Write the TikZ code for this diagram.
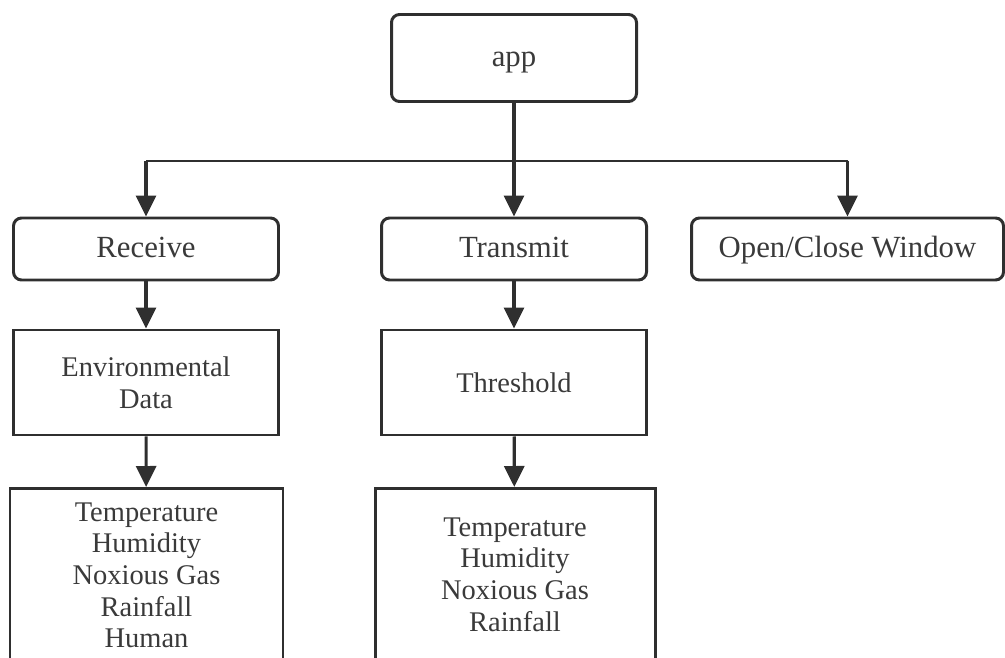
\documentclass[tikz,border=0pt]{standalone}
\usepackage{fontspec}
\setmainfont{Liberation Serif}
\usetikzlibrary{arrows.meta}
\definecolor{ink}{HTML}{2F2F2F}
\definecolor{txt}{HTML}{3A3A3A}

\begin{document}
\begin{tikzpicture}[
    topbox/.style={draw=ink,line width=1.7pt,rounded corners=0.16cm,text=txt,font=\fontsize{17.5}{21}\selectfont,
      text height=12pt,text depth=1.8pt},
    subbox/.style={draw=ink,line width=1.7pt,text=txt,align=center,font=\fontsize{16.2}{18}\selectfont},
    link/.style={draw=ink,line width=1.8pt,-{Triangle[length=0.42cm,width=0.4cm]}}
  ]
  \clip (0,0) rectangle (20.1,-13.14);

  \node[topbox,minimum width=4.9cm,minimum height=1.74cm] (app) at (10.28,-1.16) {app};
  \coordinate (split) at (10.28,-3.22);

  \node[topbox,minimum width=5.3cm,minimum height=1.24cm] (recv) at (2.92,-4.98) {Receive};
  \node[topbox,minimum width=5.3cm,minimum height=1.24cm] (trans) at (10.28,-4.98) {Transmit};
  \node[topbox,minimum width=6.24cm,minimum height=1.24cm] (win) at (16.95,-4.98) {Open/Close Window};

  \node[subbox,minimum width=5.3cm,minimum height=2.1cm] (env) at (2.92,-7.65) {Environmental\\Data};
  \node[subbox,minimum width=5.3cm,minimum height=2.1cm] (thr) at (10.28,-7.65) {Threshold};

  \node[subbox,anchor=north,minimum width=5.46cm,inner ysep=0.28cm,text depth=6cm] (envlist) at (2.93,-9.74)
    {Temperature\\Humidity\\Noxious Gas\\Rainfall\\Human};
  \node[subbox,anchor=north,minimum width=5.6cm,inner ysep=0.58cm,text depth=6cm] (thrlist) at (10.3,-9.74)
    {Temperature\\Humidity\\Noxious Gas\\Rainfall};

  \draw[link] (app) -- (trans);
  \draw[draw=ink,line width=1.2pt] (recv |- split) -- (win |- split);
  \draw[link] (recv |- split) -- (recv);
  \draw[link] (win |- split) -- (win);

  \draw[link] (recv) -- (env);
  \draw[link] (trans) -- (thr);
  \draw[link] (env) -- (envlist);
  \draw[link] (thr) -- (thrlist);
\end{tikzpicture}
\end{document}
